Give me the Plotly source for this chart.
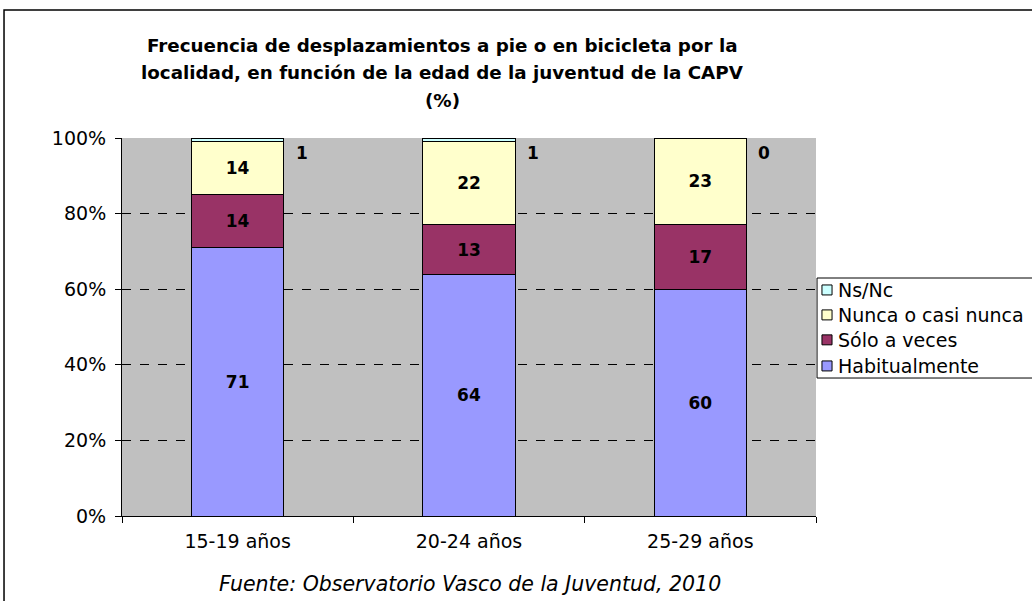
import plotly.graph_objects as go

categories = ["15-19 años", "20-24 años", "25-29 años"]
habitualmente = [71, 64, 60]
solo_a_veces = [14, 13, 17]
nunca = [14, 22, 23]
ns_nc = [1, 1, 0]
y_ticks = [0, 20, 40, 60, 80, 100]
y_tick_labels = ["0%", "20%", "40%", "60%", "80%", "100%"]
title_lines = [
    "Frecuencia de desplazamientos a pie o en bicicleta por la",
    "localidad, en función de la edad de la juventud de la CAPV",
    "(%)",
]
source_note = "Fuente: Observatorio Vasco de la Juventud, 2010"

FONT = "DejaVu Sans"

series = [
    ("Habitualmente", habitualmente, "#9999FF", True),
    ("Sólo a veces", solo_a_veces, "#993366", True),
    ("Nunca o casi nunca", nunca, "#FFFFCC", True),
    ("Ns/Nc", ns_nc, "#CCFFFF", False),
]

fig = go.Figure()
for name, vals, color, show_text in series:
    fig.add_trace(go.Bar(
        name=name, x=categories, y=vals,
        marker=dict(color=color, line=dict(color="black", width=1)),
        text=[f"<b>{v}</b>" for v in vals] if show_text else None,
        textposition="inside" if show_text else "none",
        insidetextanchor="middle",
        textfont=dict(family=FONT, size=17, color="black"),
        width=0.4,
        showlegend=False,
    ))

annotations = []
shapes = []
# Ns/Nc labels beside the bars
for c, v in zip(categories, ns_nc):
    annotations.append(dict(
        x=c, y=100, xref="x", yref="y", text=f"<b>{v}</b>", showarrow=False,
        xshift=64, yshift=-15, font=dict(family=FONT, size=17, color="black")))

# Title lines
for line, yp in zip(title_lines, [1.246, 1.1746, 1.1005]):
    annotations.append(dict(
        x=0.4625, y=yp, xref="paper", yref="paper", text=f"<b>{line}</b>",
        showarrow=False, xanchor="center", yanchor="middle",
        font=dict(family=FONT, size=18.3, color="black")))

annotations.append(dict(
    x=0.501, y=-0.18, xref="paper", yref="paper",
    text=f"<i>{source_note}</i>", showarrow=False, yanchor="middle",
    font=dict(family=FONT, size=20.5, color="black")))

# Outer chart border
shapes.append(dict(type="rect", xref="paper", yref="paper",
                   x0=-0.170, x1=1.33, y0=-0.3, y1=1.3386,
                   line=dict(color="black", width=1.5), layer="below"))

# Custom legend (reverse order, as in the reference)
shapes.append(dict(type="rect", xref="paper", yref="paper",
                   x0=1.0015, x1=1.34, y0=0.365, y1=0.6296,
                   line=dict(color="black", width=1), fillcolor="white", layer="above"))
leg_y = [0.598, 0.532, 0.466, 0.397]
for (name, vals, color, _), yc in zip(list(reversed(series)), leg_y):
    shapes.append(dict(type="rect", xref="paper", yref="paper",
                       x0=1.0086, x1=1.0231, y0=yc - 0.0132, y1=yc + 0.0132,
                       line=dict(color="black", width=1), fillcolor=color, layer="above"))
    annotations.append(dict(
        x=1.0290, y=yc, xref="paper", yref="paper", text=name, showarrow=False,
        xanchor="left", yanchor="middle",
        font=dict(family=FONT, size=19, color="black")))

fig.update_layout(
    barmode="stack",
    width=1032, height=601,
    margin=dict(l=122, r=216, t=138, b=85),
    paper_bgcolor="white",
    plot_bgcolor="#C0C0C0",
    font=dict(family=FONT, size=19, color="black"),
    annotations=annotations,
    shapes=shapes,
    showlegend=False,
)
fig.update_xaxes(
    showline=True, linecolor="black", linewidth=1,
    ticks="outside", ticklen=6, tickcolor="black", tickson="boundaries",
    showgrid=False, tickfont=dict(family=FONT, size=19),
    ticklabelstandoff=8,
)
fig.update_yaxes(
    range=[0, 100], tickvals=y_ticks, ticktext=y_tick_labels,
    showline=True, linecolor="black", linewidth=1,
    ticks="outside", ticklen=6, tickcolor="black",
    showgrid=True, gridcolor="black", griddash="dash", gridwidth=1,
    zeroline=False, tickfont=dict(family=FONT, size=19),
    ticklabelstandoff=5,
)

fig.write_html("out.html", config={"displayModeBar": False},
               post_script="document.body.style.margin='0';document.body.style.overflow='hidden';")
